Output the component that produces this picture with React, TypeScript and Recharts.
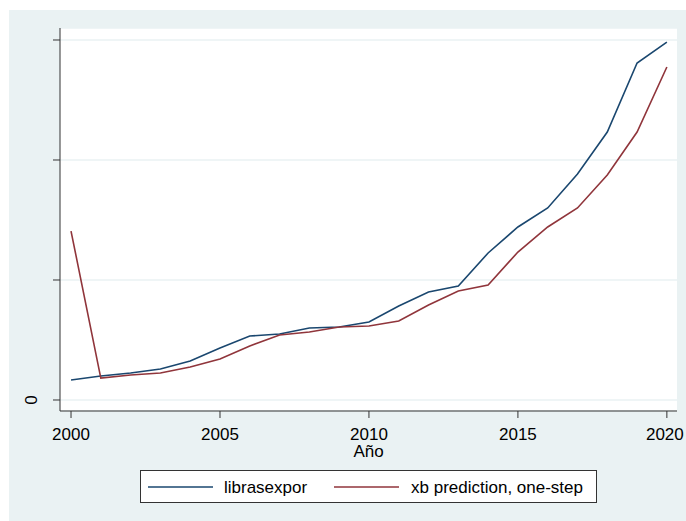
import { LineChart, Line, XAxis, YAxis, CartesianGrid } from 'recharts';

// años y series (escala en miles de millones, solo se rotula el 0)
const years = [2000, 2001, 2002, 2003, 2004, 2005, 2006, 2007, 2008, 2009, 2010, 2011, 2012, 2013, 2014, 2015, 2016, 2017, 2018, 2019, 2020];
const librasexpor = [0.167, 0.2, 0.225, 0.258, 0.325, 0.433, 0.533, 0.55, 0.6, 0.608, 0.65, 0.783, 0.9, 0.95, 1.225, 1.442, 1.6, 1.883, 2.233, 2.808, 2.983];
const xbPrediction = [1.408, 0.183, 0.208, 0.225, 0.275, 0.342, 0.45, 0.542, 0.567, 0.608, 0.617, 0.658, 0.792, 0.908, 0.958, 1.233, 1.442, 1.6, 1.875, 2.233, 2.775];
const xTicks = [2000, 2005, 2010, 2015, 2020];
const yTicks = [0, 1, 2, 3];

const BG = '#EAF2F3';
const BLUE = '#1A476F';
const RED = '#90353B';
const FONT = '"Liberation Sans", Arial, sans-serif';

const data = years.map((y, i) => ({ year: y, libras: librasexpor[i], xb: xbPrediction[i] }));

const YTick = ({ x, y, payload }: any) => {
  if (payload.value !== 0) return <g />;
  return (
    <text
      x={0}
      y={0}
      transform={`translate(${x - 14}, ${y}) rotate(-90)`}
      textAnchor="middle"
      fontFamily={FONT}
      fontSize={17}
      fill="#000"
    >
      0
    </text>
  );
};

const XTick = ({ x, y, payload }: any) => {
  const shift = payload.value === 2020 ? -2 : 0;
  return (
    <text x={x + shift} y={y + 20} textAnchor="middle" fontFamily={FONT} fontSize={17} fill="#000">
      {payload.value}
    </text>
  );
};

const App = () => {
  return (
    <div style={{ position: 'absolute', left: 0, top: 0, width: 686, height: 521, background: '#fff' }}>
      <div style={{ position: 'absolute', left: 9, top: 10, width: 677, height: 511, background: BG }} />
      <div style={{ position: 'absolute', left: 0, top: 0 }}>
        <LineChart width={686} height={521} data={data} margin={{ top: 28, right: 9, left: 0, bottom: 0 }}>
          <CartesianGrid vertical={false} stroke={BG} strokeWidth={1.5} fill="#fff" />
          <XAxis
            dataKey="year"
            type="number"
            domain={[1999.63, 2020.34]}
            ticks={xTicks}
            allowDataOverflow
            height={110}
            tickSize={7}
            tickMargin={2}
            stroke="#333"
            tick={<XTick />}
            label={{ value: 'Año', position: 'insideTop', offset: 34, fill: '#000', fontSize: 17, fontFamily: FONT }}
          />
          <YAxis
            type="number"
            domain={[-0.0917, 3.1]}
            ticks={yTicks}
            allowDataOverflow
            width={60}
            tickSize={7}
            stroke="#333"
            tick={<YTick />}
          />
          <Line type="linear" dataKey="libras" stroke={BLUE} strokeWidth={1.6} dot={false} isAnimationActive={false} />
          <Line type="linear" dataKey="xb" stroke={RED} strokeWidth={1.6} dot={false} isAnimationActive={false} />
        </LineChart>
      </div>
      <div
        style={{
          position: 'absolute',
          left: 140,
          top: 470,
          width: 455,
          height: 31,
          background: '#fff',
          border: '1px solid #333',
          fontFamily: FONT,
          fontSize: 17,
          color: '#000',
        }}
      >
        <svg width={455} height={31} style={{ position: 'absolute', left: 0, top: 0 }}>
          <line x1={7} x2={72} y1={16} y2={16} stroke={BLUE} strokeWidth={1.6} />
          <text x={83} y={22} fontFamily={FONT} fontSize={17} fill="#000">librasexpor</text>
          <line x1={193} x2={258} y1={16} y2={16} stroke={RED} strokeWidth={1.6} />
          <text x={270} y={22} fontFamily={FONT} fontSize={17} fill="#000">xb prediction, one-step</text>
        </svg>
      </div>
    </div>
  );
};

export default App;
